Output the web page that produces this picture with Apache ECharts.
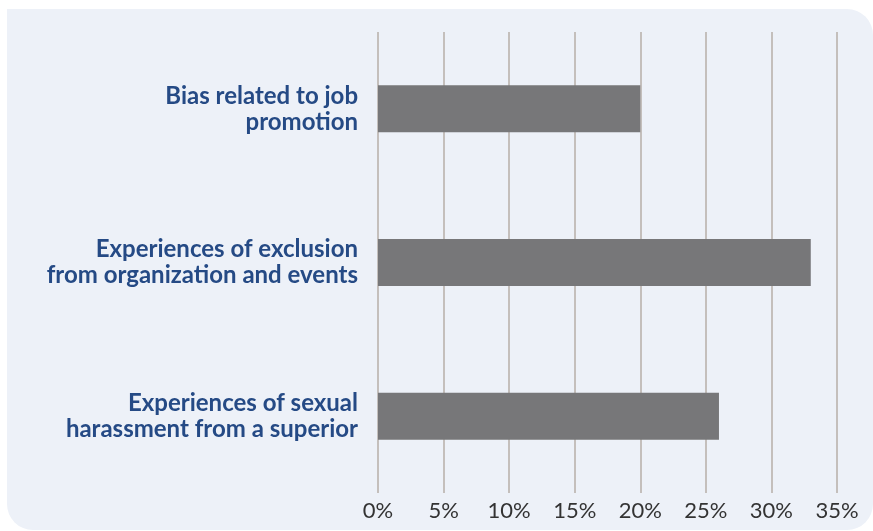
<!DOCTYPE html>
<html>
<head>
<meta charset="utf-8">
<script src="https://cdn.jsdelivr.net/npm/echarts@6/dist/echarts.min.js"></script>
<style>
  html, body { margin: 0; padding: 0; background: #ffffff; }
  #myChart { width: 873px; height: 531px; }
</style>
</head>
<body>
<div id="myChart"></div>
<script>
  // categories, top to bottom
  var categories = [
    'Bias related to job\npromotion',
    'Experiences of exclusion\nfrom organization and events',
    'Experiences of sexual\nharassment from a superior'
  ];
  var shares = [20, 33, 26];
  var tickMin = 0;
  var tickMax = 35;
  var tickStep = 5;

  var myChart = echarts.init(document.getElementById('myChart'));
  var option = {
    animation: false,
    graphic: [
      {
        type: 'rect',
        z: -10,
        shape: { x: 7, y: 9, width: 866, height: 521, r: [0, 26, 26, 26] },
        style: { fill: '#edf1f8' }
      }
    ],
    grid: {
      left: 378,
      right: 36,
      top: 32,
      bottom: 38
    },
    xAxis: {
      type: 'value',
      min: tickMin,
      max: tickMax,
      interval: tickStep,
      axisLine: { show: false },
      axisTick: { show: false },
      splitLine: {
        show: true,
        lineStyle: { color: '#c4bfbc', width: 2 }
      },
      axisLabel: {
        formatter: '{value}%',
        color: '#333333',
        fontFamily: 'Lato',
        fontSize: 22,
        margin: 7
      }
    },
    yAxis: {
      type: 'category',
      inverse: true,
      data: categories,
      axisLine: { show: false },
      axisTick: { show: false },
      axisLabel: {
        color: '#254a85',
        fontFamily: 'Lato',
        fontWeight: 'bold',
        fontSize: 24,
        lineHeight: 26,
        align: 'right',
        margin: 20
      }
    },
    series: [
      {
        type: 'bar',
        data: shares,
        barWidth: 47,
        itemStyle: { color: '#777779' }
      }
    ]
  };
  myChart.setOption(option, true);
</script>
</body>
</html>
